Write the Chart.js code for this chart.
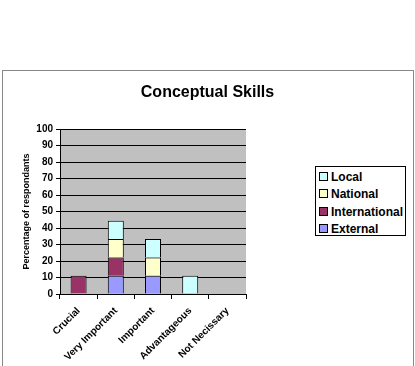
<!DOCTYPE html>
<html>
<head>
<meta charset="utf-8">
<script src="https://cdn.jsdelivr.net/npm/chart.js@4/dist/chart.umd.min.js"></script>
<style>
  body { margin: 0; background: #fff; font-family: "Liberation Sans", Arial, sans-serif; }
  #wrap { position: relative; width: 415px; height: 366px; overflow: hidden; }
  #frame { position: absolute; left: 2px; top: 70px; width: 410px; height: 320px; border: 1px solid #888; }
  #chart { position: absolute; left: 0; top: 0; }
  #legend { position: absolute; left: 315px; top: 166px; width: 89px; height: 68px; border: 1px solid #000; background: #fff; }
  .item { position: absolute; left: 3px; height: 14px; font-weight: bold; font-size: 12px; line-height: 14px; color: #000; white-space: nowrap; }
  .item span { display: inline-block; width: 7px; height: 7px; border: 1px solid #000; margin-right: 3px; vertical-align: 0px; }
</style>
</head>
<body>
<div id="wrap">
  <div id="frame"></div>
  <canvas id="chart" width="415" height="366"></canvas>
  <div id="legend"></div>
</div>
<script>
// Data
const categories = ['Crucial', 'Very Important', 'Important', 'Advantageous', 'Not Necissary'];
const externalVals = [0, 11.1, 11.1, 0, 0];
const internationalVals = [11.1, 11.1, 0, 0, 0];
const nationalVals = [0, 11.1, 11.1, 0, 0];
const localVals = [0, 11.1, 11.1, 11.1, 0];
const yTicks = [0, 10, 20, 30, 40, 50, 60, 70, 80, 90, 100];

const colors = {
    external: '#9999FF',
    international: '#993366',
    national: '#FFFFCC',
    local: '#CCFFFF',
    plot: '#C0C0C0'
};

const series = [
    { label: 'External', data: externalVals, color: colors.external },
    { label: 'International', data: internationalVals, color: colors.international },
    { label: 'National', data: nationalVals, color: colors.national },
    { label: 'Local', data: localVals, color: colors.local }
];

// grey plot area behind the bars
const plotBg = {
    id: 'plotBg',
    beforeDraw(chart) {
        const a = chart.chartArea;
        const ctx = chart.ctx;
        ctx.save();
        ctx.fillStyle = colors.plot;
        ctx.fillRect(a.left, a.top, a.right - a.left, a.bottom - a.top);
        ctx.restore();
    }
};

new Chart(document.getElementById('chart'), {
    type: 'bar',
    data: {
        labels: categories,
        datasets: series.map(s => ({
            label: s.label,
            data: s.data,
            backgroundColor: s.color,
            borderColor: '#000',
            borderWidth: 1,
            barPercentage: 0.43,
            categoryPercentage: 1
        }))
    },
    options: {
        responsive: false,
        animation: false,
        layout: { padding: 0 },
        plugins: {
            legend: { display: false },
            tooltip: { enabled: false },
            title: {
                display: true,
                text: 'Conceptual Skills',
                color: '#000',
                font: { family: 'Liberation Sans', size: 16, weight: 'bold' },
                padding: { top: 83, bottom: 27 }
            }
        },
        scales: {
            x: {
                stacked: true,
                grid: { display: true, drawOnChartArea: false, color: '#000', tickLength: 5, offset: true },
                border: { color: '#000' },
                ticks: {
                    color: '#000',
                    minRotation: 45,
                    maxRotation: 45,
                    padding: 6,
                    font: { family: 'Liberation Sans', size: 10, weight: 'bold' }
                },
                afterFit(scale) { scale.height = 72; }
            },
            y: {
                stacked: true,
                min: 0,
                max: 100,
                afterBuildTicks(scale) { scale.ticks = yTicks.map(v => ({ value: v })); },
                grid: { color: '#000', tickLength: 4 },
                border: { color: '#000' },
                ticks: {
                    color: '#000',
                    padding: 3,
                    font: { family: 'Liberation Sans', size: 10, weight: 'bold' }
                },
                title: {
                    display: true,
                    text: 'Percentage of respondants',
                    color: '#000',
                    padding: { top: 21, bottom: 0 },
                    font: { family: 'Liberation Sans', size: 9, weight: 'bold' }
                },
                afterFit(scale) { scale.width = 60; }
            },
            // empty axis that reserves the space on the right where the legend sits
            side: {
                position: 'right',
                display: true,
                grid: { display: false },
                border: { display: false },
                ticks: { display: false },
                afterFit(scale) { scale.width = 169; }
            }
        }
    },
    plugins: [plotBg]
});

// legend, listed top series first
const legend = document.getElementById('legend');
series.slice().reverse().forEach((s, i) => {
    const d = document.createElement('div');
    d.className = 'item';
    d.style.top = (3 + i * 17.3) + 'px';
    d.innerHTML = '<span style="background:' + s.color + '"></span>' + s.label;
    legend.appendChild(d);
});
</script>
</body>
</html>
